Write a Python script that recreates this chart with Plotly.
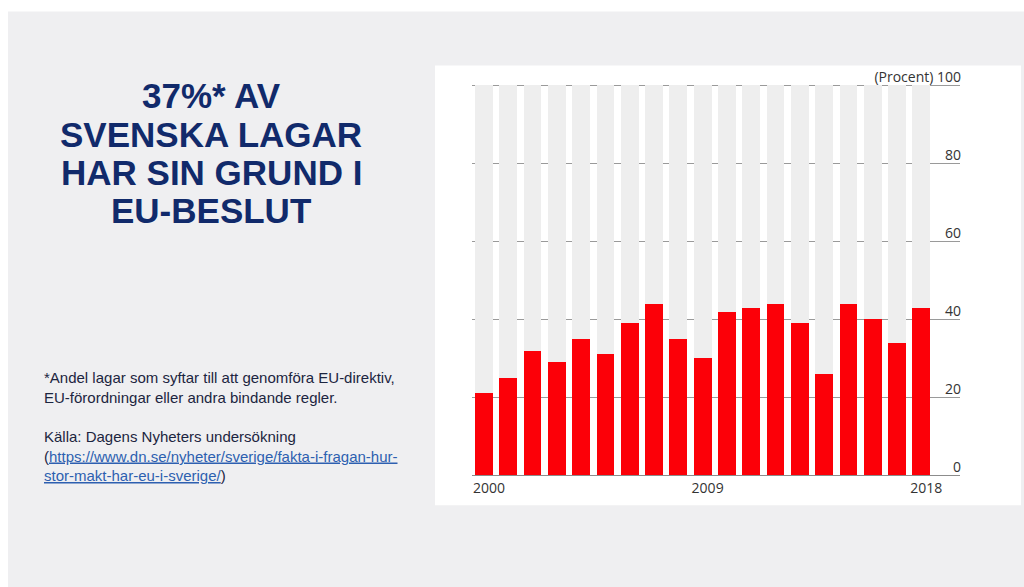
import plotly.graph_objects as go

# ---- data ----
years = list(range(2000, 2019))
eu_share = [21, 25, 32, 29, 35, 31, 39, 44, 35, 30, 42, 43, 44, 39, 26, 44, 40, 34, 43]
full_scale = [100] * len(years)
x_tick_vals = [2000, 2009, 2018]
x_tick_text = ["2000", "2009", "2018"]
y_tick_vals = [0, 20, 40, 60, 80, 100]
y_tick_text = ["0", "20", "40", "60", "80", "(Procent) 100"]

title_lines = ["37%* AV", "SVENSKA LAGAR", "HAR SIN GRUND I", "EU-BESLUT"]

W, H = 1024, 587
Y_LO, Y_HI = -3, 105
PX_PER_UNIT = 3.9
PL, PR = 472, 960
PT = 85 - (Y_HI - 100) * PX_PER_UNIT
PB = 475 - Y_LO * PX_PER_UNIT
X_LO, X_HI = 1999.51, 2019.59


def fx(px):
    return (px - PL) / (PR - PL)


def fy(py):
    return (PB - py) / (PB - PT)


fig = go.Figure()
fig.add_trace(go.Bar(x=years, y=full_scale, width=0.73, marker=dict(color="#eeeeee", line=dict(width=0)),
                     hoverinfo="skip", showlegend=False))
fig.add_trace(go.Bar(x=years, y=eu_share, width=0.73, marker=dict(color="#fc0008", line=dict(width=0)),
                     showlegend=False))

shapes = [
    dict(type="rect", xref="paper", yref="paper", x0=fx(8), x1=fx(1024), y0=fy(587), y1=fy(11),
         fillcolor="#efeff1", line=dict(width=0), layer="below"),
    dict(type="rect", xref="paper", yref="paper", x0=fx(435), x1=fx(1021), y0=fy(505), y1=fy(65),
         fillcolor="#ffffff", line=dict(width=0), layer="below"),
]

annotations = []
title_y = [95, 134, 172, 210]
for line, ty in zip(title_lines, title_y):
    annotations.append(dict(text="<b>" + line + "</b>", xref="paper", yref="paper", x=fx(211), y=fy(ty),
                            xanchor="center", yanchor="middle", showarrow=False,
                            font=dict(family="Liberation Sans, Arial", size=35, color="#112a6b")))

note_font = dict(family="Liberation Sans, Arial", size=15, color="#1c2540")
annotations.append(dict(
    text="*Andel lagar som syftar till att genomföra EU-direktiv,<br>EU-förordningar eller andra bindande regler.",
    xref="paper", yref="paper", x=fx(42), y=fy(387.5), xanchor="left", yanchor="middle",
    align="left", showarrow=False, font=note_font))
link_col = "#2d5fb0"
annotations.append(dict(
    text=("Källa: Dagens Nyheters undersökning<br>"
          "(<span style='color:" + link_col + "'><u>https://www.dn.se/nyheter/sverige/fakta-i-fragan-hur-</u></span><br>"
          "<span style='color:" + link_col + "'><u>stor-makt-har-eu-i-sverige/</u></span>)"),
    xref="paper", yref="paper", x=fx(42), y=fy(456), xanchor="left", yanchor="middle",
    align="left", showarrow=False, font=note_font))

fig.update_layout(
    width=W, height=H, autosize=False,
    margin=dict(l=PL, r=W - PR, t=PT, b=H - PB, pad=0),
    paper_bgcolor="#ffffff", plot_bgcolor="rgba(0,0,0,0)",
    barmode="overlay", bargap=0,
    shapes=shapes, annotations=annotations,
    font=dict(family="Open Sans, Noto Sans, sans-serif", size=14, color="#333333"),
    xaxis=dict(range=[X_LO, X_HI], tickvals=x_tick_vals, ticktext=x_tick_text,
               anchor="free", position=fy(475), ticklabeloverflow="allow", ticklabelshift=5,
               showgrid=False, zeroline=False, showline=True, linecolor="#8c8c8c", linewidth=1,
               ticks="", tickfont=dict(size=14, color="#333333"), fixedrange=True),
    yaxis=dict(range=[Y_LO, Y_HI], tickvals=y_tick_vals, ticktext=y_tick_text, side="right",
               ticklabelposition="inside", ticklabelshift=-8, ticklabelstandoff=-4,
               ticklabeloverflow="allow",
               showgrid=True, gridcolor="#9a9a9a", gridwidth=1, zeroline=False, showline=False,
               ticks="", tickfont=dict(size=14, color="#333333"), fixedrange=True),
)

fig.write_html("out.html", config={"displayModeBar": False},
               post_script="document.body.style.margin='0';")
